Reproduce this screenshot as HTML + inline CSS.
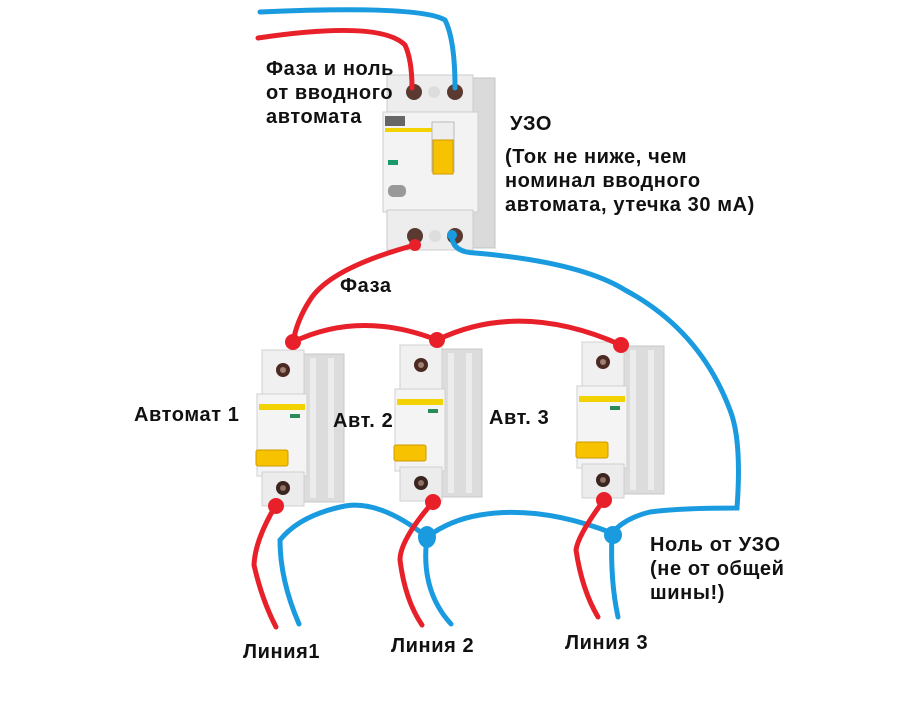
<!DOCTYPE html>
<html><head><meta charset="utf-8"><style>
body{margin:0;background:#fff;}
svg{display:block}
text{font-family:"Liberation Sans",Arial,sans-serif;font-weight:bold;fill:#111;font-size:20px;letter-spacing:0.6px}
</style></head><body>
<svg width="922" height="721" viewBox="0 0 922 721">
<defs>
<g id="brk">
  <rect x="40" y="4" width="42" height="148" fill="#dcdcdc" stroke="#c8c8c8"/>
  <rect x="48" y="8" width="6" height="140" fill="#ececec"/>
  <rect x="66" y="8" width="6" height="140" fill="#ececec"/>
  <rect x="0" y="0" width="42" height="46" fill="#f0f0f0" stroke="#d0d0d0"/>
  <circle cx="21" cy="20" r="7" fill="#4a2a22"/>
  <circle cx="21" cy="20" r="3" fill="#a08070"/>
  <rect x="-5" y="44" width="50" height="82" fill="#f4f4f4" stroke="#d0d0d0"/>
  <rect x="-3" y="54" width="46" height="6" fill="#f2d200"/>
  <rect x="28" y="64" width="10" height="4" fill="#2a8a5a"/>
  <rect x="-6" y="100" width="32" height="16" rx="2" fill="#f7c200" stroke="#d09a00"/>
  <rect x="0" y="122" width="42" height="34" fill="#ececec" stroke="#d0d0d0"/>
  <circle cx="21" cy="138" r="7" fill="#3a2520"/>
  <circle cx="21" cy="138" r="3" fill="#907060"/>
</g>
</defs>
<g>
  <rect x="470" y="78" width="25" height="170" fill="#dadada" stroke="#c4c4c4"/>
  <rect x="387" y="75" width="86" height="42" fill="#ededed" stroke="#ccc"/>
  <circle cx="414" cy="92" r="8" fill="#5a3a30"/><circle cx="434" cy="92" r="6" fill="#ddd"/><circle cx="455" cy="92" r="8" fill="#5a3a30"/>
  <rect x="383" y="112" width="95" height="100" fill="#f3f3f3" stroke="#ccc"/>
  <rect x="385" y="116" width="20" height="10" fill="#666"/>
  <rect x="385" y="128" width="56" height="4" fill="#f2d200"/>
  <rect x="432" y="122" width="22" height="50" fill="#eee" stroke="#bbb"/>
  <rect x="433" y="140" width="20" height="34" fill="#f7c200" stroke="#d09a00"/>
  <rect x="388" y="160" width="10" height="5" fill="#1a9a6a"/>
  <rect x="388" y="185" width="18" height="12" rx="5" fill="#999"/>
  <rect x="387" y="210" width="86" height="40" fill="#ededed" stroke="#ccc"/>
  <circle cx="415" cy="236" r="8" fill="#5a3a30"/><circle cx="435" cy="236" r="6" fill="#ddd"/><circle cx="455" cy="236" r="8" fill="#5a3a30"/>
</g>
<use href="#brk" transform="translate(262,350)"/>
<use href="#brk" transform="translate(400,345)"/>
<use href="#brk" transform="translate(582,342)"/>
<g fill="none" stroke-width="5" stroke-linecap="round">
  <path d="M258 38 Q380 20 405 45 Q412 60 412 88" stroke="#e8202a"/>
  <path d="M260 12 Q420 5 445 20 Q455 40 455 88" stroke="#1a9be0"/>
  <path d="M415 245 Q330 268 310 300 Q297 320 293 342" stroke="#e8202a"/>
  <path d="M293 342 Q360 310 437 340 Q520 300 621 345" stroke="#e8202a"/>
  <path d="M452 236 Q452 252 475 253 Q580 262 625 290 Q700 330 730 410 Q742 440 737 508 Q680 508 650 512 Q625 518 612 533" stroke="#1a9be0"/>
  <path d="M612 533 Q540 505 480 515 Q450 520 427 537 Q380 500 345 506 Q300 515 280 540 Q280 580 299 624" stroke="#1a9be0"/>
  <path d="M427 537 Q420 590 451 624" stroke="#1a9be0"/>
  <path d="M612 533 Q610 580 618 617" stroke="#1a9be0"/>
  <path d="M276 505 Q255 540 254 565 Q262 600 276 627" stroke="#e8202a"/>
  <path d="M433 502 Q400 540 400 560 Q405 600 422 625" stroke="#e8202a"/>
  <path d="M604 500 Q578 535 576 550 Q582 590 598 617" stroke="#e8202a"/>
</g>
<g fill="#e8202a">
  <circle cx="415" cy="245" r="6"/><circle cx="293" cy="342" r="8"/><circle cx="437" cy="340" r="8"/><circle cx="621" cy="345" r="8"/>
  <circle cx="276" cy="506" r="8"/><circle cx="433" cy="502" r="8"/><circle cx="604" cy="500" r="8"/>
</g>
<g fill="#1a9be0">
  <circle cx="452" cy="235" r="5"/><ellipse cx="427" cy="537" rx="9" ry="11"/><circle cx="613" cy="535" r="9"/>
</g>
<text x="266" y="75">Фаза и ноль</text>
<text x="266" y="99">от вводного</text>
<text x="266" y="123">автомата</text>
<text x="510" y="130">УЗО</text>
<text x="505" y="163">(Ток не ниже, чем</text>
<text x="505" y="187">номинал вводного</text>
<text x="505" y="211">автомата, утечка 30 мА)</text>
<text x="340" y="292">Фаза</text>
<text x="134" y="421">Автомат 1</text>
<text x="333" y="427">Авт. 2</text>
<text x="489" y="424">Авт. 3</text>
<text x="650" y="551">Ноль от УЗО</text>
<text x="650" y="575">(не от общей</text>
<text x="650" y="599">шины!)</text>
<text x="243" y="658">Линия1</text>
<text x="391" y="652">Линия 2</text>
<text x="565" y="649">Линия 3</text>
</svg>
</body></html>
